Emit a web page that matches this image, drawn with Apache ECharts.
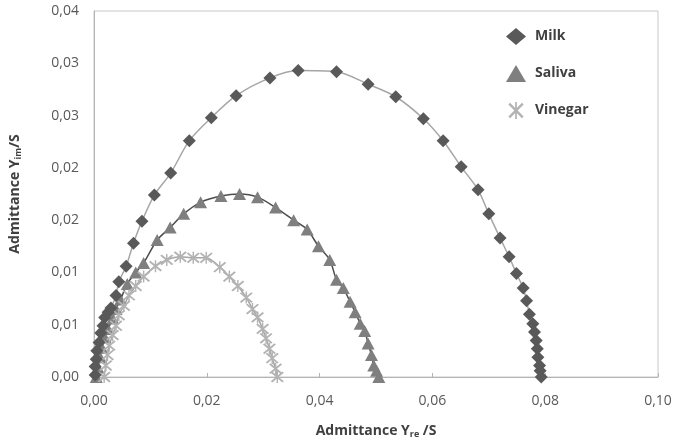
<!DOCTYPE html>
<html>
<head>
<meta charset="utf-8">
<script src="https://cdn.jsdelivr.net/npm/echarts@6/dist/echarts.min.js"></script>
<style>
  html, body { margin: 0; padding: 0; background: #fff; }
  #chart { width: 675px; height: 444px; }
</style>
</head>
<body>
<div id="chart"></div>
<script>
// admittance values, [Y_re, Y_im] in S
const milk = [
  [0.0002, 0.0002], [0.0002, 0.0010], [0.0004, 0.0017], [0.0005, 0.0025], [0.0009, 0.0033],
  [0.0012, 0.0042], [0.0016, 0.0049], [0.0019, 0.0057], [0.0025, 0.0062], [0.0030, 0.0066],
  [0.0039, 0.0078], [0.0044, 0.0091], [0.0057, 0.0106], [0.0070, 0.0128], [0.0085, 0.0149],
  [0.0107, 0.0174], [0.0136, 0.0195], [0.0169, 0.0226], [0.0208, 0.0248], [0.0252, 0.0269],
  [0.0312, 0.0286], [0.0362, 0.0293], [0.0430, 0.0292], [0.0486, 0.0280], [0.0535, 0.0268],
  [0.0584, 0.0247], [0.0619, 0.0226], [0.0651, 0.0201], [0.0681, 0.0179], [0.0700, 0.0156],
  [0.0720, 0.0133], [0.0736, 0.0115], [0.0749, 0.0099], [0.0761, 0.0085], [0.0767, 0.0073],
  [0.0772, 0.0060], [0.0778, 0.0051], [0.0781, 0.0043], [0.0784, 0.0035], [0.0786, 0.0027],
  [0.0787, 0.0019], [0.0790, 0.0011], [0.0791, 0.0006], [0.0793, 0.0000]
]
const saliva = [
  [0.0004, 0.0000], [0.0007, 0.0009], [0.0011, 0.0019], [0.0014, 0.0028], [0.0019, 0.0038],
  [0.0025, 0.0046], [0.0033, 0.0056], [0.0039, 0.0065], [0.0047, 0.0074], [0.0059, 0.0089],
  [0.0074, 0.0100], [0.0088, 0.0109], [0.0112, 0.0131], [0.0135, 0.0143], [0.0159, 0.0156],
  [0.0189, 0.0167], [0.0225, 0.0173], [0.0258, 0.0175], [0.0290, 0.0172], [0.0322, 0.0162],
  [0.0354, 0.0150], [0.0378, 0.0141], [0.0398, 0.0125], [0.0418, 0.0112], [0.0430, 0.0093],
  [0.0442, 0.0085], [0.0454, 0.0072], [0.0463, 0.0062], [0.0472, 0.0051], [0.0480, 0.0044],
  [0.0486, 0.0032], [0.0492, 0.0021], [0.0496, 0.0011], [0.0501, 0.0006], [0.0505, 0.0000]
]
const vinegar = [
  [0.0018, 0.0000], [0.0021, 0.0011], [0.0024, 0.0021], [0.0027, 0.0030], [0.0033, 0.0040],
  [0.0039, 0.0049], [0.0044, 0.0059], [0.0053, 0.0068], [0.0062, 0.0078], [0.0074, 0.0087],
  [0.0088, 0.0096], [0.0109, 0.0106], [0.0129, 0.0112], [0.0153, 0.0115], [0.0176, 0.0114],
  [0.0199, 0.0114], [0.0223, 0.0105], [0.0240, 0.0096], [0.0255, 0.0087], [0.0270, 0.0076],
  [0.0281, 0.0065], [0.0290, 0.0057], [0.0299, 0.0046], [0.0305, 0.0037], [0.0311, 0.0027],
  [0.0316, 0.0018], [0.0322, 0.0008], [0.0325, 0.0000]
]
const seriesNames = ['Milk', 'Saliva', 'Vinegar']

// asterisk marker (vertical bar + X)
const star = 'path://M9,0L11,0L11,20L9,20Z M1,3L3,1L19,17L17,19Z M17,1L19,3L3,19L1,17Z'
const font = '"Open Sans", "Liberation Sans", sans-serif'

// excel style comma labels (0.005 -> 0,01)
function fmt(v) {
  return (Math.round(v * 100 + 1e-9) / 100).toFixed(2).replace('.', ',')
}

const nameRich = {
  b: { fontSize: 14, fontWeight: 'bold', color: '#404040', fontFamily: font },
  s: { fontSize: 9, fontWeight: 'bold', color: '#404040', fontFamily: font, verticalAlign: 'bottom', padding: [7, 0, 0, 0] }
}

const chart = echarts.init(document.getElementById('chart'))
chart.setOption({
  animation: false,
  textStyle: { fontFamily: font },
  grid: {
    left: 88, right: 17, top: 11, bottom: 62,
    show: true, borderColor: '#c8c8c8', borderWidth: 1
  },
  legend: {
    orient: 'vertical',
    left: 501, top: 23,
    itemWidth: 20, itemHeight: 17, itemGap: 20,
    textStyle: { fontSize: 14, fontWeight: 'bold', color: '#404040', padding: [0, 0, 0, 4] },
    data: [
      { name: seriesNames[0], icon: 'diamond' },
      { name: seriesNames[1], icon: 'triangle' },
      { name: seriesNames[2], icon: star }
    ]
  },
  xAxis: {
    type: 'value',
    min: 0, max: 0.1, interval: 0.02,
    name: '{b|Admittance Y}{s|re}{b| /S}',
    nameLocation: 'middle', nameGap: 46,
    nameTextStyle: { rich: nameRich },
    axisLine: { show: true, lineStyle: { color: '#b4b4b4' } },
    axisTick: { show: true, inside: true, length: 4, lineStyle: { color: '#b4b4b4' } },
    axisLabel: { fontSize: 14, color: '#595959', margin: 17, formatter: fmt },
    splitLine: { show: false }
  },
  yAxis: {
    type: 'value',
    min: 0, max: 0.035, interval: 0.005,
    name: '{b|Admittance Y}{s|im}{b|/S}',
    nameLocation: 'middle', nameGap: 71,
    nameTextStyle: { rich: nameRich },
    axisLine: { show: true, lineStyle: { color: '#b4b4b4' } },
    axisTick: { show: false },
    axisLabel: { fontSize: 14, color: '#595959', margin: 15, formatter: fmt },
    splitLine: { show: false }
  },
  series: [
    {
      name: 'Milk fit', type: 'line', data: milk, smooth: 0.3, showSymbol: false, z: 1,
      lineStyle: { color: '#a6a6a6', width: 1.5 }, silent: true
    },
    {
      name: 'Saliva fit', type: 'line', data: saliva, smooth: 0.3, showSymbol: false, z: 1,
      lineStyle: { color: '#4d4d4d', width: 1.5 }, silent: true
    },
    {
      name: 'Vinegar fit', type: 'line', data: vinegar, smooth: 0.3, showSymbol: false, z: 1,
      lineStyle: { color: '#a6a6a6', width: 1.5 }, silent: true
    },
    {
      name: seriesNames[0], type: 'scatter', data: milk, symbol: 'diamond', symbolSize: 13, z: 3,
      itemStyle: { color: '#595959', opacity: 1 }
    },
    {
      name: seriesNames[1], type: 'scatter', data: saliva, symbol: 'triangle', symbolSize: [13, 12], z: 2,
      itemStyle: { color: '#7f7f7f', opacity: 1 }
    },
    {
      name: seriesNames[2], type: 'scatter', data: vinegar, symbol: star, symbolSize: [13, 12], z: 2,
      itemStyle: { color: '#b3b3b3', opacity: 1 }
    }
  ]
})
</script>
</body>
</html>
